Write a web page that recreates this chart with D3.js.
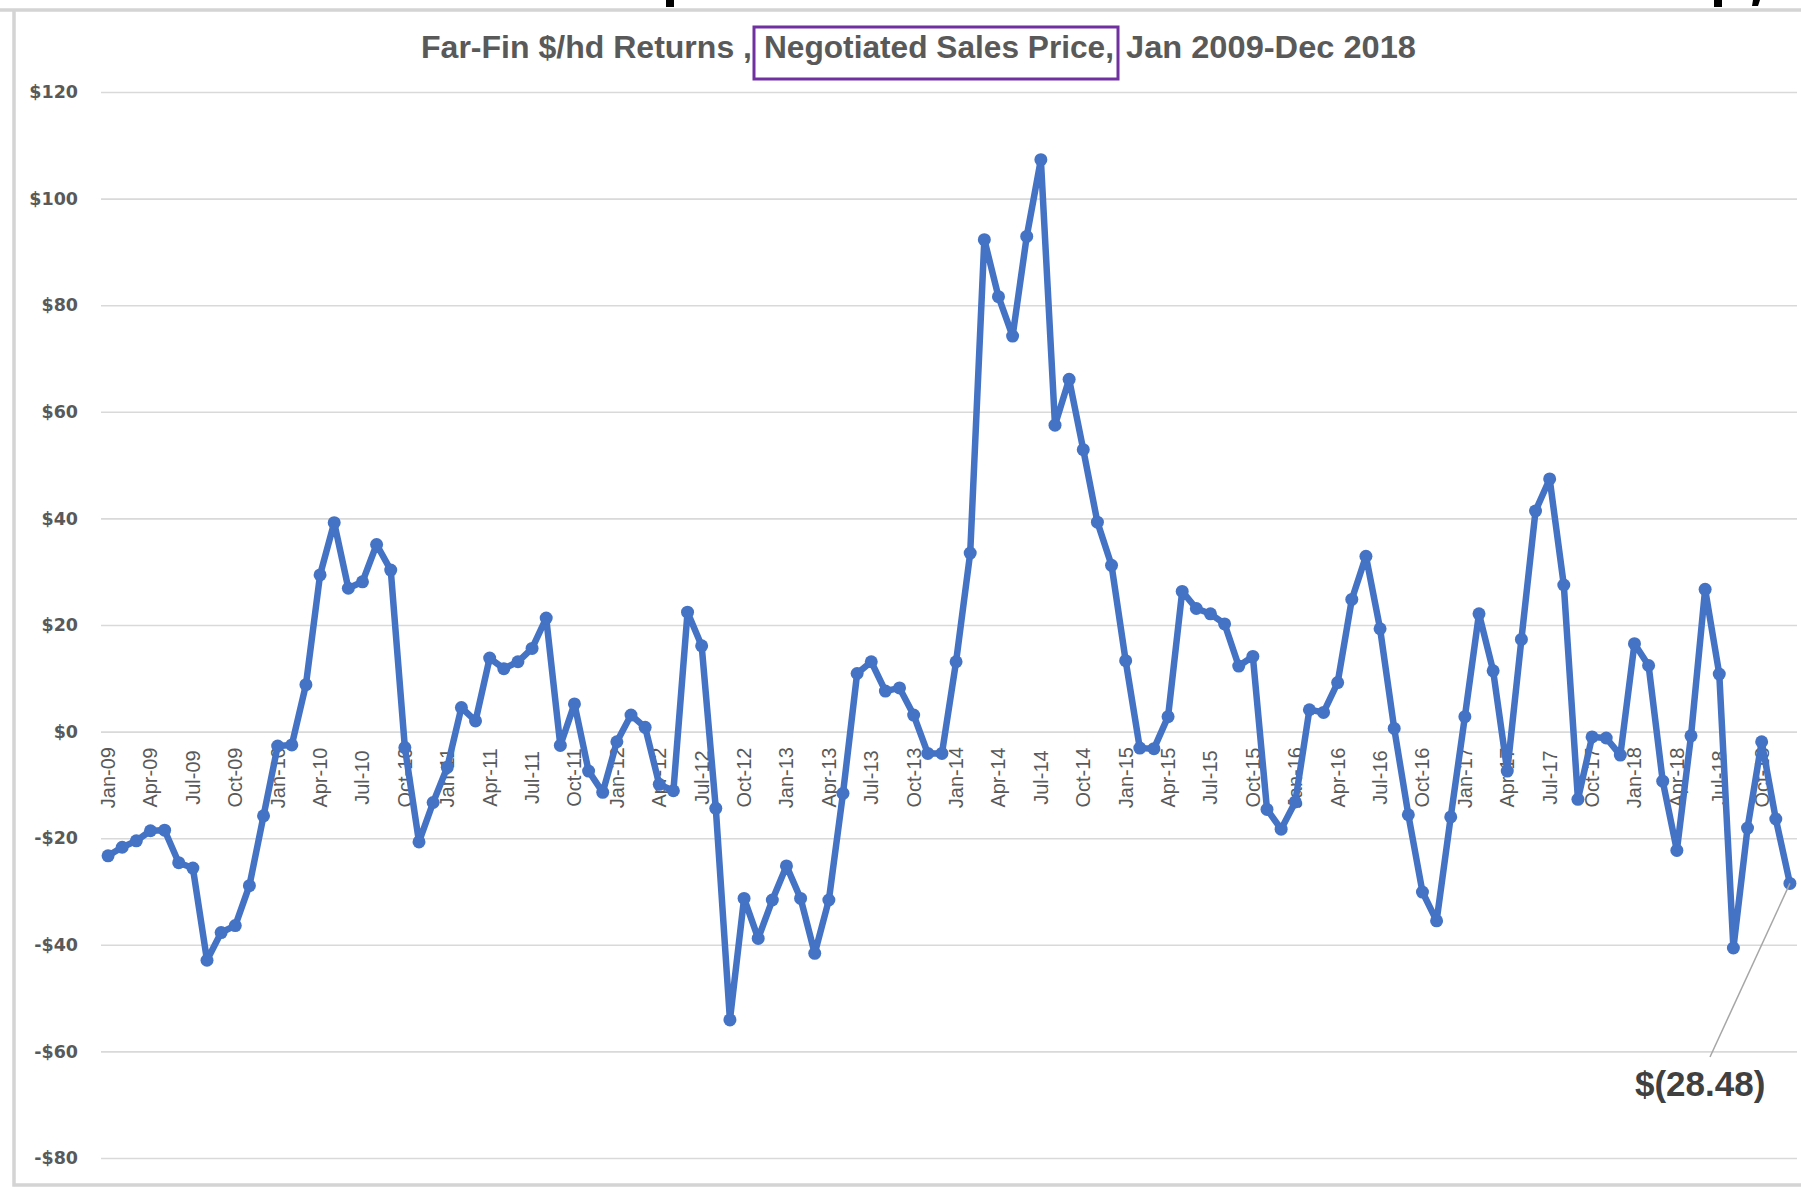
<!DOCTYPE html>
<html>
<head>
<meta charset="utf-8">
<script src="https://cdn.jsdelivr.net/npm/d3@7"></script>
<style>
  body { margin: 0; background: #fff; }
  svg { display: block; }
</style>
</head>
<body>
<script>
// Far-Fin $/hd returns, monthly Jan 2009 - Dec 2018
var years = ["09", "10", "11", "12", "13", "14", "15", "16", "17", "18"]
var monthNames = ["Jan", "Feb", "Mar", "Apr", "May", "Jun", "Jul", "Aug", "Sep", "Oct", "Nov", "Dec"]

var returns2009 = [-23.3, -21.7, -20.5, -18.6, -18.5, -24.6, -25.6, -42.9, -37.7, -36.4, -28.9, -15.8]
var returns2010 = [-2.7, -2.5, 8.8, 29.4, 39.2, 26.9, 28.1, 35.1, 30.3, -3.0, -20.7, -13.3]
var returns2011 = [-6.7, 4.5, 2.0, 13.8, 11.8, 13.1, 15.6, 21.3, -2.6, 5.2, -7.4, -11.4]
var returns2012 = [-1.9, 3.1, 0.8, -9.9, -11.1, 22.4, 16.1, -14.4, -54.1, -31.3, -38.8, -31.6]
var returns2013 = [-25.2, -31.3, -41.6, -31.6, -11.6, 10.9, 13.1, 7.6, 8.2, 3.1, -4.1, -4.1]
var returns2014 = [13.1, 33.5, 92.3, 81.6, 74.2, 92.9, 107.3, 57.5, 66.1, 52.9, 39.3, 31.2]
var returns2015 = [13.3, -3.1, -3.2, 2.8, 26.3, 23.1, 22.1, 20.2, 12.3, 14.1, -14.6, -18.3]
var returns2016 = [-13.2, 4.1, 3.6, 9.2, 24.8, 32.9, 19.3, 0.6, -15.6, -30.1, -35.5, -16.0]
var returns2017 = [2.8, 22.1, 11.4, -7.4, 17.3, 41.4, 47.4, 27.5, -12.7, -1.0, -1.2, -4.4]
var returns2018 = [16.5, 12.4, -9.3, -22.3, -0.8, 26.7, 10.8, -40.6, -18.1, -1.9, -16.4, -28.48]

var yTicks = [-80, -60, -40, -20, 0, 20, 40, 60, 80, 100, 120]

var titleParts = ["Far-Fin $/hd Returns ,", "Negotiated Sales Price,", "Jan 2009-Dec 2018"]

var allYears = [returns2009, returns2010, returns2011, returns2012, returns2013,
                returns2014, returns2015, returns2016, returns2017, returns2018]

var dataset = []
years.forEach(function(yr, i){
  monthNames.forEach(function(m, j){
    dataset.push({month: m + "-" + yr, value: allYears[i][j]})
  })
})

var width = 1801, height = 1187
var plot = {left: 101, right: 1797, top: 92, bottom: 1158}

var svg = d3.select("body").append("svg")
    .attr("width", width)
    .attr("height", height)

// stubs of the slide heading cut off above the chart
svg.append("path")
    .attr("d", "M666,0 h8 v7 h-8 Z M1714,0 h8 v7 h-8 Z M1753,0 h7 l-2,6 h-6 Z")
    .attr("fill", "#000")

// chart frame
svg.append("path")
    .attr("d", "M1801,10 H0 M14,10 V1185 H1801")
    .attr("fill", "none")
    .attr("stroke", "#d4d4d4")
    .attr("stroke-width", 3.5)

var x = d3.scaleBand()
    .domain(dataset.map(function(d){ return d.month }))
    .range([plot.left, plot.right])

var y = d3.scaleLinear()
    .domain([-80, 120])
    .range([plot.bottom, plot.top])

function cx(d){ return x(d.month) + x.bandwidth() / 2 }

// gridlines
svg.append("g")
    .attr("transform", "translate(" + plot.left + ",0)")
    .call(d3.axisLeft(y).tickValues(yTicks).tickSize(-(plot.right - plot.left)).tickFormat(""))
    .call(function(g){ g.select(".domain").remove() })
    .selectAll("line")
    .attr("stroke", "#d9d9d9")
    .attr("stroke-width", 1.6)

// y labels
svg.append("g")
    .attr("transform", "translate(" + plot.left + ",0)")
    .call(d3.axisLeft(y).tickValues(yTicks).tickSize(0).tickPadding(23)
      .tickFormat(function(d){ return (d < 0 ? "-$" : "$") + Math.abs(d) }))
    .call(function(g){ g.select(".domain").remove() })
    .selectAll("text")
    .style("font-family", "DejaVu Sans, Verdana, sans-serif")
    .style("font-weight", "bold")
    .style("font-size", "17.5px")
    .attr("fill", "#595959")

// x labels, every third month, rotated
var labelMonths = dataset.filter(function(d, i){ return i % 3 == 0 }).map(function(d){ return d.month })
svg.append("g")
    .attr("transform", "translate(0," + y(0) + ")")
    .call(d3.axisBottom(x).tickValues(labelMonths).tickSize(0))
    .call(function(g){ g.select(".domain").remove() })
    .selectAll("text")
    .attr("y", 0)
    .attr("dy", "0.35em")
    .attr("transform", "translate(0,46) rotate(-90)")
    .attr("text-anchor", "middle")
    .style("font-family", "Liberation Sans, Arial, sans-serif")
    .style("font-size", "20px")
    .attr("fill", "#595959")

// title
var title = svg.append("g")
    .style("font-family", "Liberation Sans, Arial, sans-serif")
    .style("font-weight", "bold")
    .style("font-size", "32px")
    .attr("fill", "#595959")
var titleX = [421, 764, 1126], titleW = [331, 350, 290]
titleParts.forEach(function(t, i){
  title.append("text")
    .attr("x", titleX[i])
    .attr("y", 58)
    .attr("textLength", titleW[i])
    .attr("lengthAdjust", "spacingAndGlyphs")
    .text(t)
})
svg.append("rect")
    .attr("x", 754).attr("y", 27)
    .attr("width", 364).attr("height", 52)
    .attr("fill", "none")
    .attr("stroke", "#7030a0")
    .attr("stroke-width", 3)

// the line
var line = d3.line()
    .x(cx)
    .y(function(d){ return y(d.value) })

svg.append("path")
    .datum(dataset)
    .attr("d", line)
    .attr("fill", "none")
    .attr("stroke", "#4472c4")
    .attr("stroke-width", 6.5)
    .attr("stroke-linejoin", "round")

svg.selectAll("circle")
    .data(dataset)
    .enter()
    .append("circle")
    .attr("cx", cx)
    .attr("cy", function(d){ return y(d.value) })
    .attr("r", 6.5)
    .attr("fill", "#4472c4")

// callout for last month
var last = dataset[dataset.length - 1]
svg.append("line")
    .attr("x1", cx(last)).attr("y1", y(last.value))
    .attr("x2", 1710).attr("y2", 1057)
    .attr("stroke", "#a6a6a6")
    .attr("stroke-width", 1.5)
svg.append("text")
    .attr("x", 1635)
    .attr("y", 1096)
    .style("font-family", "Liberation Sans, Arial, sans-serif")
    .style("font-weight", "bold")
    .style("font-size", "35px")
    .attr("fill", "#404040")
    .text("$(" + Math.abs(last.value).toFixed(2) + ")")
</script>
</body>
</html>
